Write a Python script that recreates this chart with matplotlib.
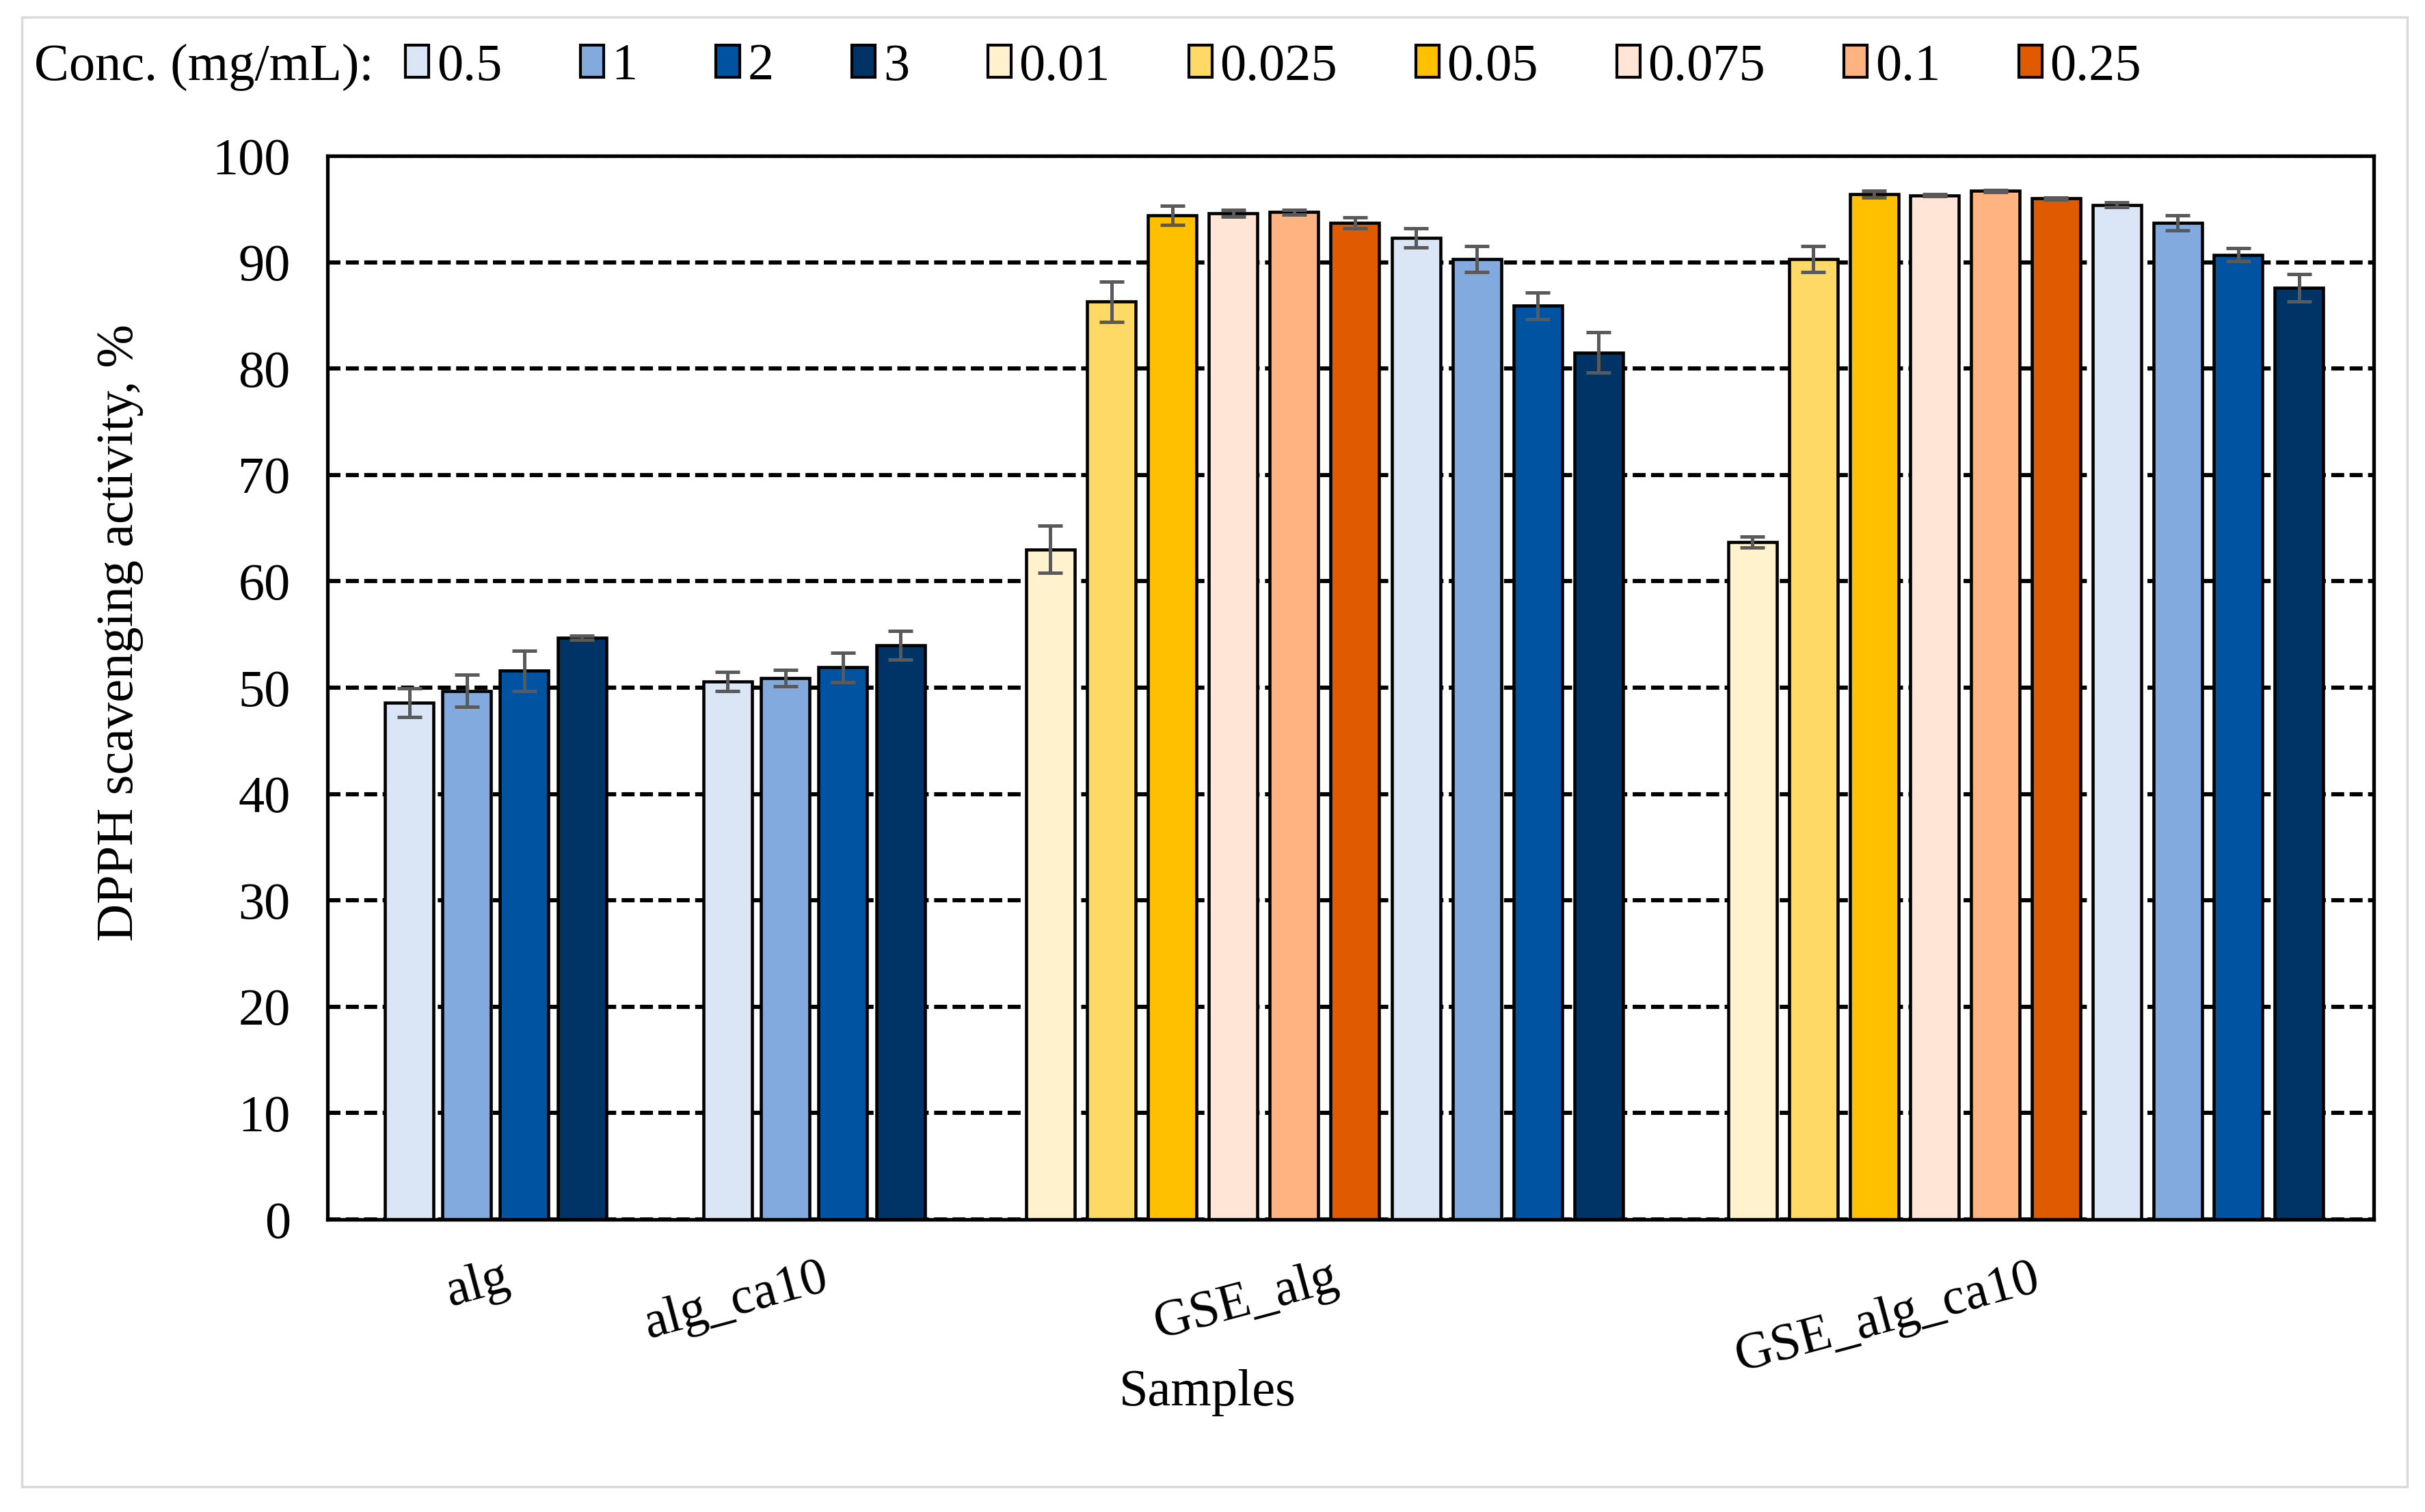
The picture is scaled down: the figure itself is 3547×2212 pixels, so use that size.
import matplotlib
matplotlib.use("Agg")
import matplotlib.pyplot as plt
from matplotlib.patches import Rectangle

plt.rcParams["font.family"] = ["Liberation Serif", "DejaVu Serif"]

# ---- data ----
samples = ["alg", "alg_ca10", "GSE_alg", "GSE_alg_ca10"]
conc_plain = ["0.5", "1", "2", "3"]
conc_gse = ["0.01", "0.025", "0.05", "0.075", "0.1", "0.25", "0.5", "1", "2", "3"]

alg_vals = [48.6, 49.7, 51.6, 54.7]
alg_err = [1.35, 1.5, 1.9, 0.2]
alg_ca10_vals = [50.6, 50.9, 51.9, 54.0]
alg_ca10_err = [0.9, 0.8, 1.4, 1.35]
gse_alg_vals = [63.0, 86.3, 94.4, 94.6, 94.7, 93.7, 92.3, 90.3, 85.9, 81.5]
gse_alg_err = [2.2, 1.9, 0.9, 0.3, 0.2, 0.5, 0.9, 1.2, 1.25, 1.9]
gse_alg_ca10_vals = [63.7, 90.3, 96.4, 96.3, 96.7, 96.0, 95.4, 93.7, 90.7, 87.6]
gse_alg_ca10_err = [0.5, 1.2, 0.3, 0.1, 0.1, 0.1, 0.2, 0.7, 0.6, 1.3]

legend_order = ["0.5", "1", "2", "3", "0.01", "0.025", "0.05", "0.075", "0.1", "0.25"]

COLORS = {
    "0.5": "#DAE5F6", "1": "#82AADF", "2": "#0053A0", "3": "#003366",
    "0.01": "#FFF2CC", "0.025": "#FFD966", "0.05": "#FFC000",
    "0.075": "#FFE5D6", "0.1": "#FFB381", "0.25": "#E05A00",
}
ERR_COLOR = "#5A5A5A"
FS = 55

groups = [
    (conc_plain, alg_vals, alg_err),
    (conc_plain, alg_ca10_vals, alg_ca10_err),
    (conc_gse, gse_alg_vals, gse_alg_err),
    (conc_gse, gse_alg_ca10_vals, gse_alg_ca10_err),
]

# layout of the clusters on the x axis (reference pixel units)
group_start = [563, 1029, 1501, 2528]
group_pitch = [84.2, 84.2, 89.1, 88.8]
bar_w = 71

W, H = 3548, 2212
fig = plt.figure(figsize=(W / 100, H / 100), dpi=100)
ax = fig.add_axes([479 / W, 1 - 1784 / H, (3472 - 479) / W, (1784 - 228) / H])

handles = {}
centers = []
for (concs, vals, errs), x0, p in zip(groups, group_start, group_pitch):
    xs = [x0 + bar_w / 2 + i * p for i in range(len(concs))]
    for x, c, v in zip(xs, concs, vals):
        b = ax.bar(x, v, width=bar_w, color=COLORS[c], edgecolor="black",
                   linewidth=3.3, zorder=2)
        handles.setdefault(c, b)
    ax.errorbar(xs, vals, yerr=errs, fmt="none", ecolor=ERR_COLOR,
                elinewidth=3.6, capsize=13, capthick=3.6, zorder=3)
    centers.append((xs[0] + xs[-1]) / 2)

ax.set_xlim(479, 3472)
ax.set_ylim(0, 100)
ax.set_yticks(range(0, 101, 10))
ax.yaxis.grid(True, linestyle=(0, (3.1, 1.3)), color="black", linewidth=4.4)
ax.set_axisbelow(True)
for s in ax.spines.values():
    s.set_linewidth(3.8)
    s.set_zorder(4)

ax.set_xticks([c + 10 for c in centers])
ax.set_xticklabels(samples, rotation=15, ha="right", rotation_mode="anchor",
                   fontsize=FS)
ax.tick_params(axis="x", length=0, pad=37)
ax.tick_params(axis="y", length=0, pad=39, labelsize=FS)

fig.text(176 / W, 1 - 925 / H, "DPPH scavenging activity, %", rotation=90,
         ha="center", va="center", fontsize=FS)
fig.text(1766 / W, 1 - 2038 / H, "Samples", ha="center", va="center", fontsize=FS)

# legend row
fig.text(50 / W, 1 - 98 / H, "Conc. (mg/mL):", ha="left", va="center", fontsize=FS)
leg = fig.legend([handles[c] for c in legend_order], legend_order,
                 loc="center left", bbox_to_anchor=(593 / W, 1 - 98 / H), ncol=10,
                 frameon=False, fontsize=FS, handlelength=0.45, handleheight=0.57,
                 handletextpad=0.15, columnspacing=1.5, borderpad=0, borderaxespad=0)
for h in leg.legend_handles:
    h.set_linewidth(3.0)

# chart-area border
fig.patches.append(Rectangle((32 / W, 1 - 2175 / H), (3521 - 32) / W, (2175 - 25) / H,
                             transform=fig.transFigure, fill=False,
                             edgecolor="#D9D9D9", linewidth=2.5))

fig.savefig("out.png", dpi=100)
